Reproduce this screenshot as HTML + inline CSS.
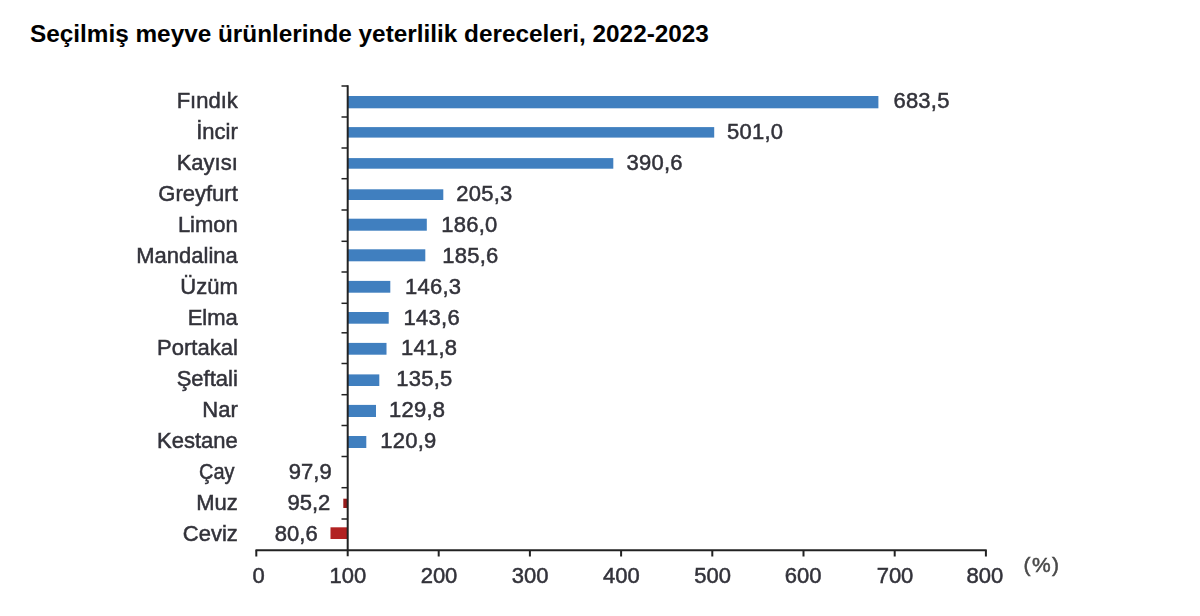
<!DOCTYPE html>
<html><head><meta charset="utf-8"><style>
html,body{margin:0;padding:0;background:#fff;}
body{width:1200px;height:616px;overflow:hidden;position:relative;font-family:"Liberation Sans",sans-serif;}
svg{position:absolute;left:0;top:0;}
text{font-family:"Liberation Sans",sans-serif;}
.t{font-size:24.34px;font-weight:bold;fill:#000;}
.c{font-size:22px;fill:#32323a;text-anchor:end;}
.v{font-size:22px;fill:#32323a;letter-spacing:0.25px;}
.ve{font-size:22px;fill:#32323a;text-anchor:end;}
.x{font-size:22px;fill:#32323a;text-anchor:middle;}
</style></head><body>
<svg width="1200" height="616" viewBox="0 0 1200 616">
<defs><filter id="b" x="0" y="0" width="1200" height="616" filterUnits="userSpaceOnUse"><feGaussianBlur stdDeviation="0.55"/></filter></defs>

<text class="t" x="30" y="41.7">Seçilmiş meyve ürünlerinde yeterlilik dereceleri, 2022-2023</text>
<g filter="url(#b)" stroke="#32323a" stroke-width="0.5">
<rect x="347.7" y="96.0" width="530.7" height="12.3" fill="#3f7fbf" stroke="none"/>
<text class="v" x="893.4" y="108.2">683,5</text>
<text class="c" x="237.8" y="108.2">Fındık</text>
<rect x="347.7" y="127.1" width="366.5" height="10.5" fill="#3f7fbf" stroke="none"/>
<text class="v" x="727.0" y="139.1">501,0</text>
<text class="c" x="237.8" y="139.1">İncir</text>
<rect x="347.7" y="158.1" width="265.6" height="10.6" fill="#3f7fbf" stroke="none"/>
<text class="v" x="626.5" y="170.0">390,6</text>
<text class="c" x="237.8" y="170.0">Kayısı</text>
<rect x="347.7" y="189.3" width="95.6" height="10.7" fill="#3f7fbf" stroke="none"/>
<text class="v" x="456.3" y="200.9">205,3</text>
<text class="c" x="237.8" y="200.9">Greyfurt</text>
<rect x="347.7" y="218.7" width="79.1" height="12.0" fill="#3f7fbf" stroke="none"/>
<text class="v" x="441.3" y="231.8">186,0</text>
<text class="c" x="237.8" y="231.8">Limon</text>
<rect x="347.7" y="249.3" width="77.6" height="12.0" fill="#3f7fbf" stroke="none"/>
<text class="v" x="442.3" y="262.7">185,6</text>
<text class="c" x="237.8" y="262.7">Mandalina</text>
<rect x="347.7" y="280.9" width="42.6" height="11.8" fill="#3f7fbf" stroke="none"/>
<text class="v" x="405.0" y="293.6">146,3</text>
<text class="c" x="237.8" y="293.6">Üzüm</text>
<rect x="347.7" y="312.0" width="41.0" height="11.7" fill="#3f7fbf" stroke="none"/>
<text class="v" x="403.6" y="324.5">143,6</text>
<text class="c" x="237.8" y="324.5">Elma</text>
<rect x="347.7" y="342.9" width="38.8" height="11.8" fill="#3f7fbf" stroke="none"/>
<text class="v" x="401.0" y="355.4">141,8</text>
<text class="c" x="237.8" y="355.4">Portakal</text>
<rect x="347.7" y="374.4" width="31.6" height="11.6" fill="#3f7fbf" stroke="none"/>
<text class="v" x="396.3" y="386.3">135,5</text>
<text class="c" x="237.8" y="386.3">Şeftali</text>
<rect x="347.7" y="404.9" width="28.3" height="12.1" fill="#3f7fbf" stroke="none"/>
<text class="v" x="389.0" y="417.2">129,8</text>
<text class="c" x="237.8" y="417.2">Nar</text>
<rect x="347.7" y="436.0" width="18.6" height="12.0" fill="#3f7fbf" stroke="none"/>
<text class="v" x="380.3" y="448.1">120,9</text>
<text class="c" x="237.8" y="448.1">Kestane</text>
<text class="ve" x="331.7" y="479.0">97,9</text>
<text class="c" x="234.6" y="479.0" textLength="35.5" lengthAdjust="spacingAndGlyphs">Çay</text>
<rect x="343.3" y="498.7" width="4.4" height="9.3" fill="#961c1c" stroke="none"/>
<text class="ve" x="330.3" y="509.9">95,2</text>
<text class="c" x="237.8" y="509.9">Muz</text>
<rect x="330.5" y="527.3" width="17.2" height="11.7" fill="#b22222" stroke="none"/>
<text class="ve" x="317.7" y="540.8">80,6</text>
<text class="c" x="237.8" y="540.8">Ceviz</text>
<text class="x" x="258.5" y="583.4">0</text>
<text class="x" x="347.8" y="583.4">100</text>
<text class="x" x="439.0" y="583.4">200</text>
<text class="x" x="530.2" y="583.4">300</text>
<text class="x" x="621.4" y="583.4">400</text>
<text class="x" x="712.6" y="583.4">500</text>
<text class="x" x="803.1" y="583.4">600</text>
<text class="x" x="895.0" y="583.4">700</text>
<text class="x" x="984.8" y="583.4">800</text>
<text x="1023.6" y="572.2" style="font-size:21px;fill:#4a4a4a;stroke:#4a4a4a;letter-spacing:1.4px">(%)</text>
</g>
<g stroke="#222" fill="none">
<line stroke-width="2" x1="347.7" y1="85.3" x2="347.7" y2="556.2"/>
<line stroke-width="2" x1="255.5" y1="550.2" x2="986.7" y2="550.2"/>
<line stroke-width="1.5" x1="341.5" y1="86.0" x2="347.7" y2="86.0"/>
<line stroke-width="1.5" x1="341.5" y1="117.0" x2="347.7" y2="117.0"/>
<line stroke-width="1.5" x1="341.5" y1="148.0" x2="347.7" y2="148.0"/>
<line stroke-width="1.5" x1="341.5" y1="178.7" x2="347.7" y2="178.7"/>
<line stroke-width="1.5" x1="341.5" y1="210.0" x2="347.7" y2="210.0"/>
<line stroke-width="1.5" x1="341.5" y1="241.3" x2="347.7" y2="241.3"/>
<line stroke-width="1.5" x1="341.5" y1="272.0" x2="347.7" y2="272.0"/>
<line stroke-width="1.5" x1="341.5" y1="303.3" x2="347.7" y2="303.3"/>
<line stroke-width="1.5" x1="341.5" y1="332.8" x2="347.7" y2="332.8"/>
<line stroke-width="1.5" x1="341.5" y1="363.5" x2="347.7" y2="363.5"/>
<line stroke-width="1.5" x1="341.5" y1="394.7" x2="347.7" y2="394.7"/>
<line stroke-width="1.5" x1="341.5" y1="425.5" x2="347.7" y2="425.5"/>
<line stroke-width="1.5" x1="341.5" y1="456.5" x2="347.7" y2="456.5"/>
<line stroke-width="1.5" x1="341.5" y1="487.7" x2="347.7" y2="487.7"/>
<line stroke-width="1.5" x1="341.5" y1="519.0" x2="347.7" y2="519.0"/>
<line stroke-width="2" x1="256.3" y1="550.2" x2="256.3" y2="556.5"/>
<line stroke-width="2" x1="438.7" y1="550.2" x2="438.7" y2="556.5"/>
<line stroke-width="2" x1="529.9" y1="550.2" x2="529.9" y2="556.5"/>
<line stroke-width="2" x1="621.1" y1="550.2" x2="621.1" y2="556.5"/>
<line stroke-width="2" x1="712.3" y1="550.2" x2="712.3" y2="556.5"/>
<line stroke-width="2" x1="803.5" y1="550.2" x2="803.5" y2="556.5"/>
<line stroke-width="2" x1="894.7" y1="550.2" x2="894.7" y2="556.5"/>
<line stroke-width="2" x1="985.9" y1="550.2" x2="985.9" y2="556.5"/>
</g>
</svg></body></html>
